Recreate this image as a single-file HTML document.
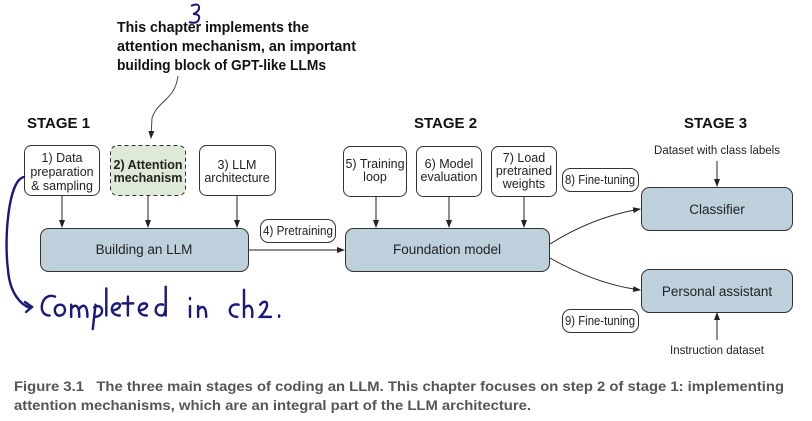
<!DOCTYPE html>
<html><head><meta charset="utf-8"><style>
body{margin:0;background:#fff}
svg{display:block}
.t{font-family:"Liberation Sans",sans-serif;font-size:12.5px;fill:#222}
.b{font-family:"Liberation Sans",sans-serif;font-weight:bold}
</style></head><body>
<svg width="812" height="421" viewBox="0 0 812 421" xmlns="http://www.w3.org/2000/svg">
<defs><marker id="a" markerWidth="8" markerHeight="8" refX="7" refY="4" orient="auto" markerUnits="userSpaceOnUse"><path d="M0,1 L8,4 L0,7z" fill="#222"/></marker></defs>
<g class="b" font-size="15" fill="#111">
<text x="117" y="32" textLength="192" lengthAdjust="spacingAndGlyphs">This chapter implements the</text>
<text x="117" y="51" textLength="239" lengthAdjust="spacingAndGlyphs">attention mechanism, an important</text>
<text x="117" y="70" textLength="209" lengthAdjust="spacingAndGlyphs">building block of GPT-like LLMs</text>
</g>
<path d="M178,76 C175,100 158,100 152,118 L151,138" fill="none" stroke="#444" stroke-width="1" marker-end="url(#a)"/>
<path d="M191,6 q9,-4 8,3 q-2,4 -6,5 q9,0 5,7 q-3,3 -9,1" fill="none" stroke="#1a1a7a" stroke-width="2"/>
<g font-family="Liberation Sans,sans-serif" font-weight="bold" font-size="15" fill="#111">
<text x="27" y="128">STAGE 1</text><text x="414" y="128">STAGE 2</text><text x="684" y="128">STAGE 3</text>
</g>
<g fill="#fff" stroke="#333" stroke-width="1">
<rect x="24.5" y="145.5" width="75" height="50" rx="7"/>
<rect x="110.5" y="145.5" width="75" height="50" rx="7" fill="#dfe9d8" stroke-dasharray="4,3"/>
<rect x="199.5" y="145.5" width="76" height="50" rx="7"/>
<rect x="343.5" y="146.5" width="63" height="50" rx="7"/>
<rect x="416.5" y="146.5" width="65" height="50" rx="7"/>
<rect x="491.5" y="146.5" width="65" height="50" rx="7"/>
<rect x="260.5" y="219.5" width="75" height="23" rx="8"/>
<rect x="562.5" y="168.5" width="76" height="23" rx="8"/>
<rect x="562.5" y="309.5" width="76" height="23" rx="8"/>
<g fill="#bed0dc"><rect x="40.5" y="228.5" width="208" height="43" rx="8"/>
<rect x="345.5" y="228.5" width="204" height="43" rx="8"/>
<rect x="641.5" y="187.5" width="151" height="43" rx="8"/>
<rect x="641.5" y="269.5" width="151" height="43" rx="8"/></g>
</g>
<g class="t" text-anchor="middle">
<text x="62" y="162">1) Data</text><text x="62" y="176">preparation</text><text x="62" y="190">&amp; sampling</text>
<text x="148" y="169" font-weight="bold">2) Attention</text><text x="148" y="182" font-weight="bold">mechanism</text>
<text x="237" y="169">3) LLM</text><text x="237" y="182">architecture</text>
<text x="375" y="168">5) Training</text><text x="375" y="181">loop</text>
<text x="449" y="168">6) Model</text><text x="449" y="181">evaluation</text>
<text x="524" y="162">7) Load</text><text x="524" y="175">pretrained</text><text x="524" y="188">weights</text>
<text x="298" y="235" textLength="70" lengthAdjust="spacingAndGlyphs">4) Pretraining</text>
<text x="600" y="184" textLength="70" lengthAdjust="spacingAndGlyphs">8) Fine-tuning</text><text x="600" y="325" textLength="70" lengthAdjust="spacingAndGlyphs">9) Fine-tuning</text>
<text x="144" y="254" font-size="13.5">Building an LLM</text>
<text x="447" y="254" font-size="13.5">Foundation model</text>
<text x="717" y="214" font-size="13.5">Classifier</text>
<text x="717" y="296" font-size="13.5">Personal assistant</text>
<text x="717" y="154" font-size="11.5">Dataset with class labels</text>
<text x="717" y="354" font-size="11.5">Instruction dataset</text>
</g>
<g stroke="#222" stroke-width="1" fill="none" marker-end="url(#a)">
<path d="M62,196 V227"/><path d="M148,196 V227"/><path d="M237,196 V227"/>
<path d="M376,197 V227"/><path d="M449,197 V227"/><path d="M524,197 V227"/>
<path d="M249,250 H344"/>
<path d="M550,244 C580,225 610,214 640,209"/>
<path d="M550,258 C580,275 610,286 640,290"/>
<path d="M717,161 V186"/><path d="M717,340 V313"/>
</g>
<g fill="none" stroke="#1a1a7a" stroke-width="2.4" stroke-linecap="round">
<path d="M24,177 C8,180 4,240 8,270 C10,295 22,305 30,308"/>
<path d="M25,302 L32,307 L26,312"/>
<g transform="translate(-26,-103) scale(1.35)" stroke-width="1.8">
<path d="M60,296 c-10,-4 -14,14 -4,14 M64,302 c-6,0 -5,9 0,8 c5,-1 4,-8 0,-8 M72,302 l0,9 M72,305 c3,-4 6,-3 6,6 M78,305 c3,-4 6,-3 6,6 M90,302 l-2,18 M89,304 c6,-4 9,6 1,7 M98,290 l0,20 M104,306 c4,-1 6,-5 2,-5 c-5,0 -6,9 2,9 M114,296 l0,14 M110,301 l8,0 M124,306 c4,-1 6,-5 2,-5 c-5,0 -6,9 2,9 M140,302 c-6,-2 -8,8 -1,8 c2,0 3,-3 3,-8 l0,-14 l0,22 M160,303 l0,8 M160,297 l0,1 M166,303 l0,8 M166,306 c3,-4 6,-3 6,5 M196,302 c-8,-2 -9,9 -1,9 M200,291 l0,20 M200,305 c3,-4 7,-3 6,6 M212,302 c4,-5 9,-1 0,9 l8,0 M226,310 l0,1"/>
</g>
</g>
<g class="b" font-size="14" fill="#555">
<text x="14" y="391" textLength="770" lengthAdjust="spacingAndGlyphs">Figure 3.1 &#160;&#160;The three main stages of coding an LLM. This chapter focuses on step 2 of stage 1: implementing</text>
<text x="14" y="410" textLength="517" lengthAdjust="spacingAndGlyphs">attention mechanisms, which are an integral part of the LLM architecture.</text>
</g>
</svg>
</body></html>
